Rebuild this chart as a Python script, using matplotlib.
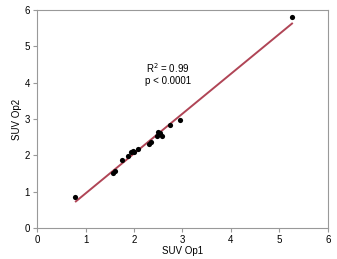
import matplotlib
matplotlib.use("Agg")
import matplotlib.pyplot as plt
import numpy as np

plt.rcParams['font.family'] = ['Liberation Sans', 'DejaVu Sans']

suv_op1 = [0.78, 1.56, 1.61, 1.76, 1.87, 1.93, 1.98, 2.00, 2.09, 2.31, 2.36, 2.48, 2.50, 2.53, 2.57, 2.74, 2.94, 5.26]
suv_op2 = [0.85, 1.51, 1.58, 1.86, 1.97, 2.08, 2.13, 2.10, 2.17, 2.31, 2.38, 2.52, 2.63, 2.61, 2.52, 2.83, 2.96, 5.80]
fit_x = [0.80, 5.26]
fit_y = [0.73, 5.63]
ticks = [0, 1, 2, 3, 4, 5, 6]

fig = plt.figure(figsize=(3.37, 2.59), dpi=100)
ax = fig.add_axes([0.110, 0.120, 0.863, 0.841])
ax.plot(fit_x, fit_y, color='#b04556', lw=1.4, zorder=2)
ax.scatter(suv_op1, suv_op2, s=14, color='black', zorder=3, linewidths=0)
ax.set_xlim(0, 6)
ax.set_ylim(0, 6)
ax.set_xticks(ticks)
ax.set_yticks(ticks)
for s in ax.spines.values():
    s.set_color('#999999')
    s.set_linewidth(0.8)
ax.tick_params(labelsize=7, length=3, width=0.8, color='#999999', pad=2)
ax.set_xlabel('SUV Op1', fontsize=7, labelpad=1)
ax.set_ylabel('SUV Op2', fontsize=7, labelpad=2)
ax.text(2.70, 4.40, 'R$^2$ = 0.99', ha='center', va='center', fontsize=7)
ax.text(2.70, 4.05, 'p < 0.0001', ha='center', va='center', fontsize=7)
fig.savefig('out.png', dpi=100)
